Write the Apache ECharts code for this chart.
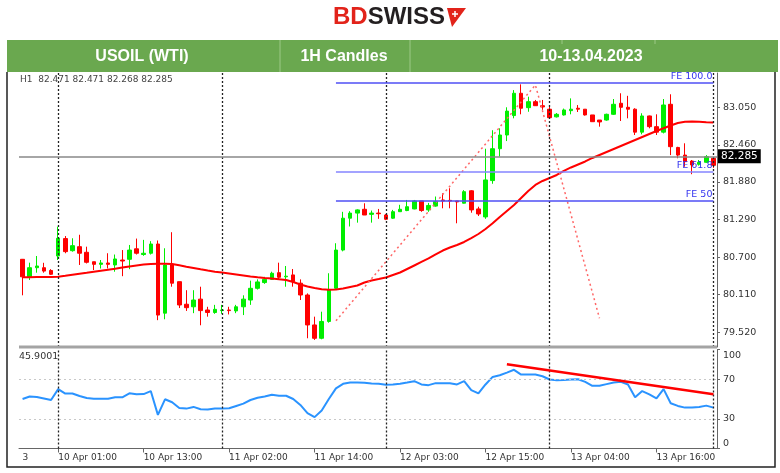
<!DOCTYPE html>
<html><head><meta charset="utf-8">
<script src="https://cdn.jsdelivr.net/npm/echarts@6/dist/echarts.min.js"></script>
<style>html,body{margin:0;padding:0;background:#fff}#c{width:780px;height:473px}</style>
</head><body><div id="c"></div>
<script>
// ---- data ----
const opens  = [80.665,80.383,80.533,80.533,80.49,80.717,80.99,80.80,80.863,80.775,80.627,80.586,80.607,80.576,80.654,80.665,80.83,80.74,80.76,80.905,79.82,80.576,80.314,79.96,79.92,80.04,79.87,79.83,79.86,79.87,79.855,79.92,80.026,80.21,80.30,80.35,80.455,80.39,80.42,80.29,80.105,79.635,79.426,79.69,80.21,80.81,81.31,81.39,81.45,81.37,81.39,81.36,81.31,81.412,81.43,81.455,81.58,81.44,81.50,81.596,81.59,81.58,81.545,81.74,81.455,81.33,81.90,82.40,82.615,82.92,83.27,83.044,83.138,83.075,83.02,82.90,82.93,82.997,83.035,83.02,82.93,82.85,82.85,82.94,83.113,83.05,83.02,82.66,82.914,82.746,82.66,83.097,82.42,82.30,82.207,82.156,82.187,82.25];
const highs  = [80.67,80.612,80.717,80.61,80.51,81.177,81.03,80.995,81.05,80.863,80.627,80.654,80.76,80.74,80.81,80.89,80.99,80.97,80.95,80.96,80.838,81.09,80.314,80.18,80.18,80.235,79.92,79.95,79.95,79.92,79.95,80.10,80.33,80.35,80.39,80.47,80.612,80.56,80.513,80.35,80.13,79.765,79.843,80.446,80.917,81.41,81.42,81.45,81.544,81.43,81.455,81.375,81.44,81.52,81.596,81.596,81.58,81.55,81.65,81.70,81.78,81.58,81.75,81.75,81.49,82.40,82.69,82.72,83.05,83.32,83.41,83.216,83.165,83.165,83.055,82.96,83.03,83.19,83.085,83.02,82.93,82.85,82.95,83.18,83.27,83.23,83.035,82.956,82.92,82.94,83.18,83.254,82.43,82.485,82.223,82.223,82.30,82.27];
const lows   = [80.10,80.34,80.455,80.455,80.42,80.654,80.76,80.785,80.576,80.60,80.497,80.52,80.52,80.47,80.40,80.51,80.74,80.72,80.74,79.71,79.724,80.235,79.90,79.855,79.82,79.63,79.765,79.81,79.81,79.80,79.82,79.79,79.95,80.19,80.28,80.34,80.34,80.235,80.235,80.026,79.426,79.40,79.41,79.67,80.19,80.79,81.18,81.24,81.36,81.24,81.30,81.28,81.30,81.41,81.42,81.45,81.41,81.41,81.49,81.465,81.465,81.23,81.54,81.396,81.345,81.30,81.85,82.275,82.52,82.877,82.94,82.98,83.07,83.01,82.88,82.89,82.92,82.94,82.976,82.92,82.82,82.746,82.84,82.93,82.835,82.877,82.615,82.626,82.72,82.615,82.64,82.30,82.25,82.118,82.00,82.135,82.18,82.10];
const closes = [80.39,80.533,80.56,80.48,80.43,80.995,80.785,80.879,80.76,80.618,80.586,80.607,80.586,80.67,80.638,80.81,80.76,80.76,80.905,79.79,80.576,80.29,79.948,79.906,80.026,79.86,79.83,79.88,79.87,79.86,79.92,80.04,80.21,80.31,80.35,80.446,80.383,80.40,80.314,80.105,79.635,79.426,79.69,80.184,80.81,81.31,81.39,81.44,81.36,81.39,81.38,81.293,81.412,81.45,81.49,81.58,81.43,81.51,81.57,81.58,81.58,81.565,81.726,81.44,81.376,81.91,82.40,82.615,82.99,83.27,83.035,83.138,83.075,83.055,82.887,82.94,83.008,83.02,83.02,82.93,82.824,82.82,82.94,83.097,83.05,83.02,82.66,82.914,82.746,82.66,83.086,82.432,82.30,82.197,82.145,82.187,82.275,82.14];
const maValues = [80.383,80.384,80.386,80.388,80.389,80.392,80.406,80.422,80.438,80.453,80.469,80.485,80.500,80.516,80.535,80.552,80.568,80.582,80.592,80.595,80.595,80.592,80.571,80.549,80.529,80.508,80.488,80.469,80.458,80.443,80.427,80.411,80.395,80.383,80.372,80.362,80.352,80.341,80.309,80.270,80.239,80.215,80.195,80.187,80.191,80.207,80.231,80.254,80.301,80.333,80.356,80.380,80.419,80.458,80.513,80.568,80.623,80.678,80.741,80.803,80.850,80.890,80.937,80.999,81.062,81.141,81.230,81.329,81.423,81.517,81.627,81.737,81.831,81.894,81.941,81.988,82.051,82.106,82.153,82.200,82.255,82.302,82.349,82.396,82.443,82.490,82.537,82.584,82.631,82.678,82.721,82.764,82.804,82.824,82.827,82.823,82.816,82.813];
const rsiValues = [50,52.5,52,50.5,49,60,55.5,55.5,53,51,50.3,50.3,50.3,51.7,51.7,55.7,54.7,55,58,34,49.7,46.7,41,40.3,42,39.7,39.3,40.3,40.5,40.7,43,45.3,49,51.3,52.5,54.3,53.3,53.3,50,44,35.7,31.7,38.3,50,60.7,65.3,66.7,66.7,66.5,65.7,65.3,64.5,64.7,65.5,66.7,68,64.7,64,66,66,66,64.7,68,59,55.7,64.7,72.3,74,76.7,79.5,74.7,74.7,74.7,73,69.7,69,69.3,69.7,70,67.3,63.3,63.3,65,66.7,67.3,64.7,51.7,58,54.7,50.7,60,45.7,43,41.3,41.3,42,43.3,41.3];
const feLevels = [83.442, 82.04, 81.585];
const feNames = ['FE 100.0', 'FE 61.8', 'FE 50'];
const feStartBar = 44;
const fibPath = [[44, 79.70], [72, 83.40], [81, 79.74]];
const rsiTrend = [[68, 85], [97, 54.7]];
const lastPrice = 82.285;
const priceTicks = [79.52, 80.11, 80.70, 81.29, 81.88, 82.46, 83.05];
const rsiTicks = [0, 30, 70, 100];
const rsiLevels = [30, 70];
const timeTickLabels = ['10 Apr 01:00','10 Apr 13:00','11 Apr 02:00','11 Apr 14:00','12 Apr 03:00','12 Apr 15:00','13 Apr 04:00','13 Apr 16:00'];
const edgeLabel = '3';
const headerCells = ['USOIL (WTI)', '1H Candles', '10-13.04.2023'];
const ohlcText = 'H1  82.471 82.471 82.268 82.285';
const rsiText = '45.9001';

// hourly bar times (market closed 00:00)
const pad = h => (h < 10 ? '0' : '') + h;
const categories = [];
for (let h = 19; h <= 23; h++) categories.push('6 Apr ' + pad(h) + ':00');
['10 Apr', '11 Apr', '12 Apr', '13 Apr'].forEach(d => { for (let h = 1; h <= 23; h++) categories.push(d + ' ' + pad(h) + ':00'); });
categories.push('14 Apr 01:00');
const daySeps = categories.map((c, i) => c.endsWith(' 01:00') ? i : -1).filter(i => i >= 0);

const FONT = 'DejaVu Sans';
const chart = echarts.init(document.getElementById('c'), null, {renderer: 'canvas'});
const sepLines = daySeps.map(i => ({xAxis: i, lineStyle: {color: '#222', type: [2, 2], width: 1.3}, label: {show: false}}));

chart.setOption({
  animation: false,
  backgroundColor: '#fff',
  grid: [
    {left: 19, right: 63, top: 73, height: 274, outerBoundsMode: 'none'},
    {left: 19, right: 63, top: 349.5, height: 99, outerBoundsMode: 'none'}
  ],
  xAxis: [
    {type: 'category', gridIndex: 0, data: categories, boundaryGap: true,
     axisLine: {show: false}, axisTick: {show: false}, axisLabel: {show: false}, splitLine: {show: false}},
    {type: 'category', gridIndex: 1, data: categories, boundaryGap: true,
     axisLine: {show: true, lineStyle: {color: '#666', width: 1}},
     axisTick: {show: true, alignWithLabel: true, length: 4, lineStyle: {color: '#666'},
       interval: (idx, val) => timeTickLabels.includes(val)},
     axisLabel: {show: true, align: 'left', margin: 5, color: '#333', fontFamily: FONT, fontSize: 9,
       interval: (idx, val) => idx === 0 || timeTickLabels.includes(val),
       formatter: (val, idx) => idx === 0 ? edgeLabel : val},
     splitLine: {show: false}}
  ],
  yAxis: [
    {type: 'value', gridIndex: 0, position: 'right', min: 79.289, max: 83.588, scale: true,
     axisLine: {show: true, lineStyle: {color: '#666'}},
     axisTick: {show: true, length: 3, customValues: priceTicks, lineStyle: {color: '#666'}},
     axisLabel: {show: true, customValues: priceTicks, margin: 6, color: '#333', fontFamily: FONT, fontSize: 9.5,
       formatter: v => v.toFixed(3)},
     splitLine: {show: false}},
    {type: 'value', gridIndex: 1, position: 'right', min: 0, max: 100,
     axisLine: {show: true, lineStyle: {color: '#666'}},
     axisTick: {show: true, length: 3, customValues: rsiTicks, lineStyle: {color: '#666'}},
     axisLabel: {show: true, customValues: rsiTicks, margin: 6, color: '#333', fontFamily: FONT, fontSize: 9.5,
       formatter: v => v === 100 ? '{a|100}' : (v === 0 ? '{b|0}' : String(v)),
       rich: {a: {padding: [12, 0, 0, 0], fontFamily: FONT, fontSize: 9.5, color: '#333'},
              b: {padding: [0, 0, 10, 0], fontFamily: FONT, fontSize: 9.5, color: '#333'}}},
     splitLine: {show: false}}
  ],
  series: [
    {type: 'candlestick', xAxisIndex: 0, yAxisIndex: 0, barWidth: 4,
     data: opens.map((o, i) => [o, closes[i], lows[i], highs[i]]),
     itemStyle: {color: '#00ee00', color0: '#ff0000', borderColor: '#00ee00', borderColor0: '#ff0000', borderWidth: 1},
     markLine: {silent: true, symbol: ['none', 'none'], animation: false,
       data: sepLines.concat([
         {yAxis: lastPrice, lineStyle: {color: '#888', type: 'solid', width: 1.5},
          label: {show: true, position: 'end', distance: 1, formatter: lastPrice.toFixed(3), color: '#fff',
                  backgroundColor: '#000', padding: [2, 3, 1, 3], fontFamily: FONT, fontSize: 10.5}}
       ]).concat(feLevels.map((v, k) => [
         {xAxis: feStartBar, yAxis: v, lineStyle: {color: k === 1 ? '#8585ff' : '#4f4ff5', type: 'solid', width: 1.5},
          label: {show: true, position: 'insideEndTop', distance: 1, formatter: feNames[k], color: '#3535f0',
                  fontFamily: FONT, fontSize: 9.5}},
         {xAxis: categories.length - 1, yAxis: v}
       ]))}
    },
    {type: 'line', xAxisIndex: 0, yAxisIndex: 0, data: maValues, symbol: 'none',
     lineStyle: {color: '#ff0000', width: 2}, z: 3},
    {type: 'line', xAxisIndex: 0, yAxisIndex: 0, data: fibPath, symbol: 'none',
     lineStyle: {color: '#ff6666', width: 1.5, type: [2, 3]}, z: 4},
    {type: 'line', xAxisIndex: 1, yAxisIndex: 1, data: rsiValues, symbol: 'none',
     lineStyle: {color: '#2a93ff', width: 2}, z: 3,
     markLine: {silent: true, symbol: ['none', 'none'], animation: false,
       data: rsiLevels.map(v => ({yAxis: v, lineStyle: {color: '#c8c8c8', type: [2, 3], width: 1}, label: {show: false}}))
         .concat(sepLines)}},
    {type: 'line', xAxisIndex: 1, yAxisIndex: 1, data: rsiTrend, symbol: 'none',
     lineStyle: {color: '#ff0000', width: 2.5}, z: 5}
  ],
  graphic: [
    {type: 'rect', shape: {x: 7, y: 40, width: 771, height: 32}, style: {fill: '#6aa84f'}, z: 10},
    {type: 'line', shape: {x1: 280, y1: 40, x2: 280, y2: 72}, style: {stroke: '#9cc987', lineWidth: 1}, z: 11},
    {type: 'line', shape: {x1: 410, y1: 40, x2: 410, y2: 72}, style: {stroke: '#9cc987', lineWidth: 1}, z: 11},
    {type: 'line', shape: {x1: 562, y1: 40, x2: 562, y2: 44}, style: {stroke: '#9cc987', lineWidth: 1}, z: 11},
    {type: 'line', shape: {x1: 655, y1: 40, x2: 655, y2: 44}, style: {stroke: '#9cc987', lineWidth: 1}, z: 11},
    {type: 'text', x: 142, y: 57, z: 12, style: {text: headerCells[0], fill: '#fff', font: 'bold 16px "Liberation Sans"', align: 'center', verticalAlign: 'middle'}},
    {type: 'text', x: 344, y: 57, z: 12, style: {text: headerCells[1], fill: '#fff', font: 'bold 16px "Liberation Sans"', align: 'center', verticalAlign: 'middle'}},
    {type: 'text', x: 591, y: 57, z: 12, style: {text: headerCells[2], fill: '#fff', font: 'bold 16px "Liberation Sans"', align: 'center', verticalAlign: 'middle'}},
    {type: 'text', x: 333, y: 17, z: 12, style: {text: '{a|BD}{b|SWISS}', verticalAlign: 'middle',
      rich: {a: {fill: '#e2231a', font: 'bold 24px "Liberation Sans"'}, b: {fill: '#231f20', font: 'bold 24px "Liberation Sans"'}}}},
    {type: 'polygon', z: 12, shape: {points: [[447, 8], [466, 8], [452, 27]]}, style: {fill: '#e2231a'}},
    {type: 'line', z: 13, shape: {x1: 455, y1: 11, x2: 455, y2: 17}, style: {stroke: '#fff', lineWidth: 1.5}},
    {type: 'line', z: 13, shape: {x1: 452, y1: 14, x2: 458, y2: 14}, style: {stroke: '#fff', lineWidth: 1.5}},
    {type: 'rect', shape: {x: 19, y: 345.5, width: 698, height: 3}, style: {fill: '#a4a4a4'}, z: 20},
    {type: 'text', x: 20, y: 80, z: 12, style: {text: ohlcText, fill: '#444', font: '9px "DejaVu Sans"', verticalAlign: 'middle'}},
    {type: 'text', x: 19, y: 357, z: 12, style: {text: rsiText, fill: '#333', font: '9.5px "DejaVu Sans"', verticalAlign: 'middle'}},
    {type: 'polyline', z: 20, shape: {points: [[7, 72], [7, 467], [775, 467], [775, 72]]}, style: {stroke: '#222', lineWidth: 1.5, fill: null}}
  ]
});
</script>
</body></html>
